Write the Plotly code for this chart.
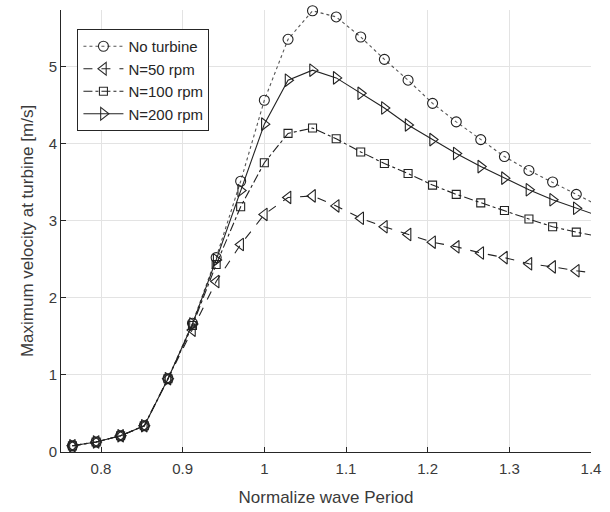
import plotly.graph_objects as go

# Normalized wave period (last point lies just beyond the visible range)
period = [0.765, 0.794, 0.824, 0.853, 0.882, 0.912, 0.941, 0.971, 1.000, 1.029,
          1.059, 1.088, 1.118, 1.147, 1.176, 1.206, 1.235, 1.265, 1.294, 1.324,
          1.353, 1.382, 1.412]

no_turbine = [0.08, 0.13, 0.21, 0.34, 0.95, 1.67, 2.52, 3.51, 4.56, 5.35,
              5.72, 5.64, 5.38, 5.09, 4.82, 4.52, 4.28, 4.05, 3.83, 3.65,
              3.50, 3.34, 3.18]
n50 = [0.08, 0.13, 0.21, 0.34, 0.95, 1.58, 2.21, 2.69, 3.08, 3.30,
       3.32, 3.19, 3.03, 2.92, 2.82, 2.72, 2.66, 2.58, 2.52, 2.44,
       2.40, 2.35, 2.31]
n100 = [0.08, 0.13, 0.21, 0.34, 0.95, 1.64, 2.43, 3.18, 3.75, 4.13,
        4.20, 4.06, 3.89, 3.74, 3.61, 3.46, 3.34, 3.23, 3.13, 3.02,
        2.92, 2.85, 2.79]
n200 = [0.08, 0.13, 0.21, 0.34, 0.95, 1.66, 2.49, 3.39, 4.25, 4.82,
        4.95, 4.85, 4.65, 4.46, 4.24, 4.05, 3.87, 3.70, 3.55, 3.40,
        3.27, 3.16, 3.05]

series_names = ["No turbine", "N=50 rpm", "N=100 rpm", "N=200 rpm"]
x_ticks = [0.8, 0.9, 1.0, 1.1, 1.2, 1.3, 1.4]
x_tick_labels = ["0.8", "0.9", "1", "1.1", "1.2", "1.3", "1.4"]
y_ticks = [0, 1, 2, 3, 4, 5]

FONT = "Liberation Sans, Arial, sans-serif"
TXT = "#3a3a3a"

# hide marker of the out-of-range point (line still runs to the edge)
op = [1] * (len(period) - 1) + [0]

styles = [
    dict(dash="dot", symbol="circle-open", size=10, color="#555555"),
    dict(dash="dash", symbol="triangle-left-open", size=11, color="#222222"),
    dict(dash="dashdot", symbol="square-open", size=8, color="#222222"),
    dict(dash="solid", symbol="triangle-right-open", size=11, color="#222222"),
]
data = [no_turbine, n50, n100, n200]

fig = go.Figure()
for name, ys, st in zip(series_names, data, styles):
    fig.add_trace(go.Scatter(
        x=period, y=ys, name=name, mode="lines+markers",
        line=dict(color=st["color"], width=1.1, dash=st["dash"]),
        marker=dict(symbol=st["symbol"], size=st["size"], opacity=op,
                    color="#222222", line=dict(color="#222222", width=1.1)),
        cliponaxis=False,
    ))

fig.update_layout(
    width=610, height=512,
    margin=dict(l=61, r=19, t=10, b=60, autoexpand=False),
    paper_bgcolor="white", plot_bgcolor="white",
    font=dict(family=FONT, size=15, color=TXT),
    showlegend=True,
    legend=dict(
        x=0.031, y=0.957, xanchor="left", yanchor="top",
        bgcolor="white", bordercolor="#262626", borderwidth=1,
        font=dict(family=FONT, size=15, color="#262626"),
        tracegroupgap=0, itemwidth=40,
    ),
)
fig.update_xaxes(
    range=[0.751, 1.4], tickvals=x_ticks, ticktext=x_tick_labels,
    showgrid=True, gridcolor="#e3e3e3", gridwidth=1,
    showline=True, linecolor="#262626", linewidth=1,
    ticks="inside", ticklen=5, tickcolor="#262626",
    zeroline=False, mirror=False, automargin=False,
    tickfont=dict(family=FONT, size=15, color=TXT),
    ticklabelstandoff=3,
    title=dict(text="Normalize wave Period", standoff=15,
               font=dict(family=FONT, size=17, color=TXT)),
)
fig.update_yaxes(
    range=[0, 5.73], tickvals=y_ticks,
    showgrid=True, gridcolor="#e3e3e3", gridwidth=1,
    showline=True, linecolor="#262626", linewidth=1,
    ticks="inside", ticklen=5, tickcolor="#262626",
    zeroline=False, mirror=False, automargin=False,
    tickfont=dict(family=FONT, size=15, color=TXT),
    title=dict(text="Maximum velocity at turbine [m/s]", standoff=10,
               font=dict(family=FONT, size=17, color=TXT)),
)

fig.write_html("out.html", config={"displayModeBar": False},
               post_script="document.body.style.margin='0';")
